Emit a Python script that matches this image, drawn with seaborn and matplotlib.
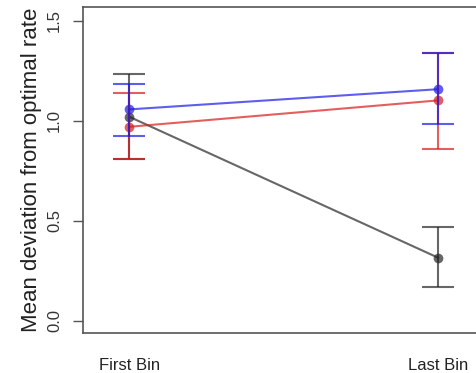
import numpy as np
import pandas as pd
import matplotlib
matplotlib.use('Agg')
import matplotlib.pyplot as plt
import seaborn as sns

# values
bins = ['First Bin', 'Last Bin']
groups = ['black', 'red', 'blue']
black_mean = [1.019, 0.314]
black_lo = [0.806, 0.169]
black_hi = [1.234, 0.466]
red_mean = [0.969, 1.101]
red_lo = [0.806, 0.859]
red_hi = [1.137, 1.339]
blue_mean = [1.056, 1.157]
blue_lo = [0.922, 0.982]
blue_hi = [1.184, 1.337]

colors = {'black': (0.15, 0.15, 0.15, 0.7),
          'red': (0.85, 0.1, 0.1, 0.7),
          'blue': (0.1, 0.1, 0.9, 0.7)}

means = {'black': black_mean, 'red': red_mean, 'blue': blue_mean}
lows = {'black': black_lo, 'red': red_lo, 'blue': blue_lo}
highs = {'black': black_hi, 'red': red_hi, 'blue': blue_hi}

rows = []
for g in groups:
    for i, b in enumerate(bins):
        rows.append({'group': g, 'x': i + 1, 'bin': b, 'mean': means[g][i],
                     'lo': lows[g][i], 'hi': highs[g][i]})
df = pd.DataFrame(rows)

sns.set_style('white')
plt.rcParams['font.family'] = ['Liberation Sans', 'DejaVu Sans']

fig = plt.figure(figsize=(4.77, 3.73), dpi=100)
ax = fig.add_axes([0.174, 0.107, 1.016 - 0.174, 0.981 - 0.107])

sns.lineplot(data=df, x='x', y='mean', hue='group', hue_order=groups,
             palette=colors, marker='o', markersize=7, markeredgewidth=0,
             linewidth=1.5, legend=False, ax=ax)

for g in groups:
    sub = df[df['group'] == g]
    ax.errorbar(sub['x'], sub['mean'],
                yerr=[sub['mean'] - sub['lo'], sub['hi'] - sub['mean']],
                fmt='none', ecolor=colors[g], elinewidth=1.5,
                capsize=11.5, capthick=1.5)

ax.set_xlim(0.85, 2.15)
ax.set_ylim(-0.0625, 1.5675)
ax.set_yticks([0.0, 0.5, 1.0, 1.5])
ax.set_yticklabels(['0.0', '0.5', '1.0', '1.5'], rotation=90, va='center',
                   fontsize=12, color='#333333')
ax.set_xticks([1, 2])
ax.set_xticklabels(bins, fontsize=12, color='#222222')
ax.tick_params(axis='x', length=0, pad=18)
ax.tick_params(axis='y', left=True, length=7, width=1, color='#555555',
               direction='out', pad=8)
ax.set_xlabel('')
ax.set_ylabel('Mean deviation from optimal rate', fontsize=16,
              color='#222222', labelpad=4)
for s in ax.spines.values():
    s.set_color('#555555')
    s.set_linewidth(1.2)

fig.savefig('out.png', dpi=100)
